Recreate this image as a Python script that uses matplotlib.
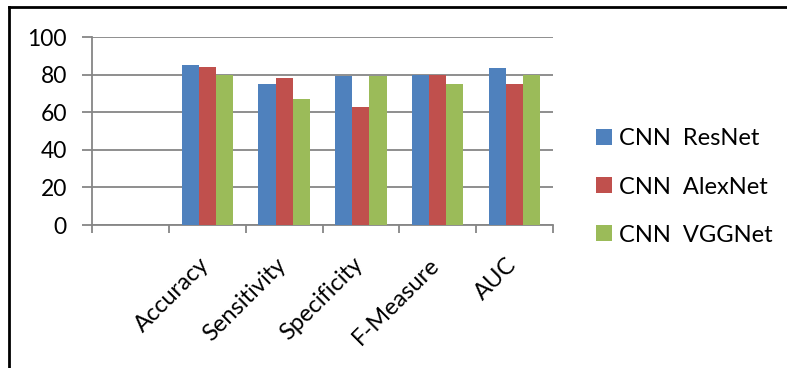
import matplotlib.pyplot as plt
from matplotlib.lines import Line2D
from matplotlib.transforms import ScaledTranslation
import numpy as np

plt.rcParams['font.family'] = ['Lato', 'DejaVu Sans']

categories = ['', 'Accuracy', 'Sensitivity', 'Specificity', 'F-Measure', 'AUC']
resnet = [np.nan, 85, 75, 79, 80, 83.5]
alexnet = [np.nan, 84, 78, 63, 80, 75]
vggnet = [np.nan, 80, 67, 79, 75, 80]
series_names = ['CNN  ResNet', 'CNN  AlexNet', 'CNN  VGGNet']
colors = ['#4F81BD', '#C0504D', '#9BBB59']

W, H = 787, 368
fig = plt.figure(figsize=(W / 100, H / 100), dpi=100)
# axes box in pixels: left 92, right 553, y0 at 225, y100 at 37
ax = fig.add_axes([92 / W, 1 - 225 / H, (553 - 92) / W, (225 - 37) / H])

x = np.arange(len(categories))
bw = 0.222
for i, (vals, name, c) in enumerate(zip([resnet, alexnet, vggnet], series_names, colors)):
    ax.bar(x + (i - 1) * bw, vals, bw, color=c, label=name, zorder=3)

ax.set_xlim(-0.5, len(categories) - 0.5)
ax.set_ylim(0, 100)
ax.set_yticks(range(0, 101, 20))
ax.yaxis.grid(True, color='#868686', linewidth=1.3, zorder=0)
ax.tick_params(axis='y', direction='out', length=7, width=1.3, color='#868686', labelsize=16.5, pad=11)

# category boundary ticks like excel
ax.set_xticks(np.arange(-0.5, len(categories), 1.0))
ax.set_xticklabels([])
ax.tick_params(axis='x', direction='out', length=6, color='#868686', width=1.3)
ax.set_xticks(x, minor=True)
ax.set_xticklabels(categories, minor=True, rotation=45, ha='right', rotation_mode='anchor', fontsize=17)
ax.tick_params(axis='x', which='minor', length=0, pad=10)
shift = ScaledTranslation(-9 / 100, -15 / 100, fig.dpi_scale_trans)
for lbl in ax.get_xticklabels(minor=True):
    lbl.set_transform(lbl.get_transform() + shift)

for s in ['top', 'right']:
    ax.spines[s].set_visible(False)
ax.spines['left'].set_color('#868686')
ax.spines['bottom'].set_color('#868686')
ax.spines['left'].set_linewidth(1.3)
ax.spines['bottom'].set_linewidth(1.3)

fig.legend(loc='center left', bbox_to_anchor=(575 / W, 1 - 187 / H), frameon=False,
           fontsize=17, handlelength=0.65, handleheight=0.65, handletextpad=0.3,
           labelspacing=1.15)

# outer border
fig.add_artist(Line2D([9 / W, 9 / W], [0, 1 - 7 / H], color='black', linewidth=2, transform=fig.transFigure))
fig.add_artist(Line2D([9 / W, 1], [1 - 7 / H, 1 - 7 / H], color='black', linewidth=2, transform=fig.transFigure))

fig.savefig('out.png', dpi=100)
